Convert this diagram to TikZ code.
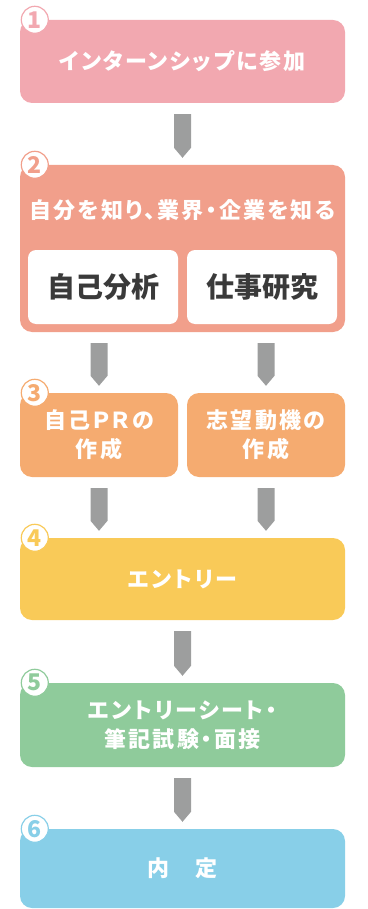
\documentclass[tikz,border=0pt]{standalone}
\usepackage{fontspec}
\setmainfont{Noto Sans CJK JP}
\newfontfamily\boxfont{Noto Sans CJK JP}[RawFeature=+palt, LetterSpace=10]
\usetikzlibrary{calc}
\definecolor{cone}{HTML}{F2A8B0}
\definecolor{ctwo}{HTML}{F19F8B}
\definecolor{cthree}{HTML}{F5AB70}
\definecolor{cfour}{HTML}{F9CA58}
\definecolor{cfive}{HTML}{8FCB9B}
\definecolor{csix}{HTML}{88CFE8}
\definecolor{arrowgray}{HTML}{9D9E9E}
\definecolor{textgray}{HTML}{3A3A3A}
\tikzset{
  box/.style={rounded corners=12pt, inner sep=0pt, align=center, text=white,
    font=\boxfont\bfseries\fontsize{22}{29}\selectfont},
  wbox/.style={fill=white, rounded corners=8pt, inner sep=0pt, text=textgray,
    font=\bfseries\fontsize{28}{30}\selectfont},
  badge/.style={circle, fill=white, draw=#1, line width=1.2pt, minimum size=27pt,
    inner sep=0pt, text=#1, font=\bfseries\fontsize{23}{23}\selectfont},
}
\newcommand\flowarrow[2]{%
  \path (#1) ++(0,11) coordinate (ta);
  \path (#2) ++(0,-7) coordinate (tb);
  \fill[arrowgray] ($(ta)+(-8.5,0)$) -- ($(ta)+(8.5,0)$) -- ($(tb)+(8.5,-10)$)
    -- (tb) -- ($(tb)+(-8.5,-10)$) -- cycle;}
\begin{document}
\begin{tikzpicture}[x=1pt,y=-1pt]
\useasboundingbox (0,0) rectangle (367,909);
% boxes
\node[box, fill=cone, minimum width=325pt, minimum height=83pt] (b1) at (182.5,61.5)
  {インターンシップに参加};
\node[box, fill=ctwo, minimum width=325pt, minimum height=167pt] (b2) at (182.5,248.5) {};
\node[box] (t2) at ($(b2.north)+(0,45)$) {自分を知り、業界・企業を知る};
\node[wbox, minimum width=150pt, minimum height=74pt] (w1) at (103,287) {自己分析};
\node[wbox, minimum width=150pt, minimum height=74pt] (w2) at (262,287) {仕事研究};
\node[box, fill=cthree, minimum width=158pt, minimum height=84pt] (b3l) at (99,435)
  {自己ＰＲの\\作成};
\node[box, fill=cthree, minimum width=158pt, minimum height=84pt] (b3r) at (266,435)
  {志望動機の\\作成};
\node[box, fill=cfour, minimum width=325pt, minimum height=82pt] (b4) at (182.5,579)
  {エントリー};
\node[box, fill=cfive, minimum width=325pt, minimum height=84pt] (b5) at (182.5,725)
  {エントリーシート・\\筆記試験・面接};
\node[box, fill=csix, minimum width=325pt, minimum height=79pt] (b6) at (182.5,868.5)
  {内　定};
% badges
\node[badge=cone] (n1) at ($(b1.north west)+(15,0)$) {1};
\node[badge=ctwo] (n2) at ($(b2.north west)+(15,0)$) {2};
\node[badge=cthree] (n3) at ($(b3l.north west)+(15,0)$) {3};
\node[badge=cfour] (n4) at ($(b4.north west)+(15,0)$) {4};
\node[badge=cfive] (n5) at ($(b5.north west)+(15,0)$) {5};
\node[badge=csix] (n6) at ($(b6.north west)+(15,0)$) {6};
% arrows
\flowarrow{b1.south}{b2.north}
\flowarrow{b2.south -| b3l.north}{b3l.north}
\flowarrow{b2.south -| b3r.north}{b3r.north}
\flowarrow{b3l.south}{b4.north -| b3l.south}
\flowarrow{b3r.south}{b4.north -| b3r.south}
\flowarrow{b4.south}{b5.north}
\flowarrow{b5.south}{b6.north}
\end{tikzpicture}
\end{document}
